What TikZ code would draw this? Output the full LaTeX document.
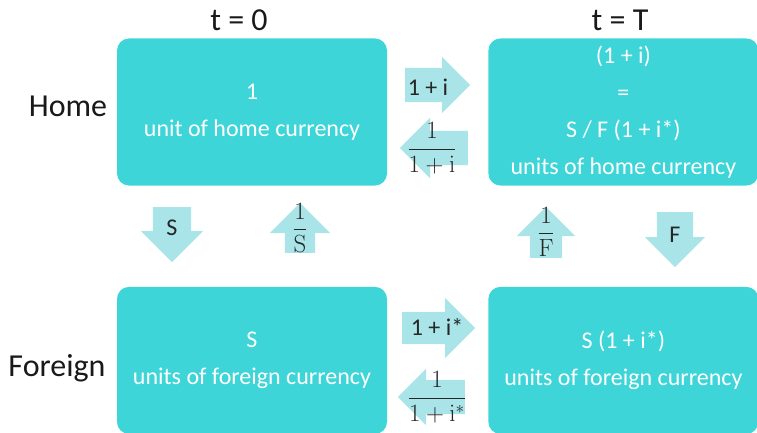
\documentclass[tikz,border=0pt]{standalone}
\usepackage[no-math]{fontspec}
\setmainfont{Carlito}
\usepackage{tikz}
\usetikzlibrary{shapes.arrows, positioning}

\definecolor{boxcol}{RGB}{61,213,216}
\definecolor{arrcol}{RGB}{168,228,232}

\begin{document}
\begin{tikzpicture}[
  x=1pt, y=-1pt,
  box/.style={rectangle, fill=boxcol, rounded corners=12pt, minimum width=270pt, minimum height=147pt, text=white, align=center, font=\fontsize{24}{37}\selectfont},
  blk/.style={single arrow, fill=arrcol, single arrow head extend=13pt, anchor=tail},
  harr/.style={blk, inner xsep=0pt, inner ysep=#1},
  varr/.style={blk, inner ysep=0pt, inner xsep=#1},
  lbl/.style={font=\fontsize{24}{28}\selectfont, text=black!85, inner sep=0pt},
  head/.style={font=\fontsize{32}{36}\selectfont, text=black!90, inner sep=0pt},
]
\useasboundingbox (0,0) rectangle (757,433);

% the four positions
\node[box] (home0) at (252,112) {1\\unit of home currency};
\node[box, right=101pt of home0] (homeT) {(1 + i)\\=\\S / F (1 + i*)\\units of home currency};
\node[box, below=101pt of home0] (for0) {S\\units of foreign currency};
\node[box, below=101pt of homeT] (forT) {S (1 + i*)\\units of foreign currency};

% headings
\node[head] (t0) at (239,20) {t = 0};
\node[head] (tT) at (620,20) {t = T};
\node[head] (home) at (68,106) {Home};
\node[head] (foreign) at (57,368) {Foreign};

% interest arrows
\node[harr=17pt, minimum height=65pt, single arrow head extend=11pt] (invH) at (405,85) {};
\node[harr=17pt, minimum height=68pt, shape border rotate=180] (disH) at (468,148) {};
\node[harr=16pt, minimum height=73pt, single arrow head extend=14pt] (invF) at (402,328) {};
\node[harr=17pt, minimum height=67pt, single arrow head extend=11pt, shape border rotate=180] (disF) at (465,397) {};
\node[lbl] (rateH) at (428,87) {1 + i};
\node[lbl] (fracH) at (432,148) {$\displaystyle\frac{1}{1+\mathrm{i}}$};
\node[lbl] (rateF) at (437,327) {1 + i*};
\node[lbl] (fracF) at (437,397) {$\displaystyle\frac{1}{1+\mathrm{i}^*}$};

% exchange arrows
\node[varr=19pt, minimum height=55pt, single arrow head extend=12pt, shape border rotate=270] (spotD) at (172,207) {};
\node[varr=15pt, minimum height=50pt, single arrow head extend=15pt, shape border rotate=90] (spotU) at (300,253) {};
\node[varr=16pt, minimum height=51pt, single arrow head extend=13pt, shape border rotate=90] (fwdU) at (546,258) {};
\node[varr=18pt, minimum height=55pt, single arrow head extend=12pt, shape border rotate=270] (fwdD) at (675,212) {};
\node[lbl] (spot) at (172,228) {S};
\node[lbl] (invS) at (300,228) {$\displaystyle\frac{1}{\mathrm{S}}$};
\node[lbl] (invFw) at (546,232) {$\displaystyle\frac{1}{\mathrm{F}}$};
\node[lbl] (fwd) at (675,235) {F};

\end{tikzpicture}
\end{document}
